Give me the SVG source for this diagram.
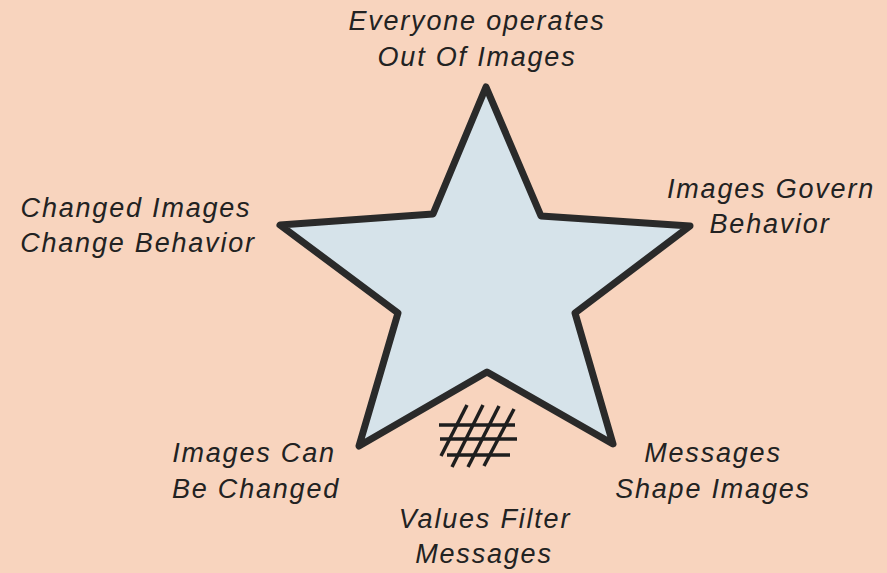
<svg xmlns="http://www.w3.org/2000/svg" width="887" height="573" viewBox="0 0 887 573">
<style>
.lbl{font-family:"Liberation Sans",Arial,sans-serif;font-style:italic;font-size:27px;fill:#222;letter-spacing:1.8px;text-anchor:middle}
.hatch{stroke:#1e1e1e;stroke-width:3.5;fill:none;stroke-linecap:butt}
</style>
<rect width="887" height="573" fill="#f8d4be"/>
<g id="star">
<polygon points="486,87 541,216 690,226 575,313 613,444 487,372 359,446 398,313 280,225 433,214" fill="#d6e3ea" stroke="#2a2a2a" stroke-width="7" stroke-linejoin="round"/>
</g>
<g id="filter" class="hatch">
<line x1="439" y1="425" x2="515" y2="425"/>
<line x1="440" y1="439" x2="517" y2="439"/>
<line x1="447" y1="455" x2="510" y2="455"/>
<line x1="467" y1="405" x2="441" y2="456"/>
<line x1="483" y1="405" x2="452" y2="467"/>
<line x1="499" y1="406" x2="468" y2="467"/>
<line x1="514" y1="409" x2="484" y2="466"/>
</g>
<g id="connectors"></g>
<g id="label-top"><text class="lbl" x="477" y="30">Everyone operates</text><text class="lbl" x="477" y="66">Out Of Images</text></g>
<g id="label-left"><text class="lbl" x="136" y="217">Changed Images</text><text class="lbl" x="138" y="252">Change Behavior</text></g>
<g id="label-right"><text class="lbl" x="771" y="198">Images Govern</text><text class="lbl" x="770" y="233">Behavior</text></g>
<g id="label-lowleft"><text class="lbl" x="254" y="462">Images Can</text><text class="lbl" x="256" y="498">Be Changed</text></g>
<g id="label-lowright"><text class="lbl" x="713" y="462">Messages</text><text class="lbl" x="713" y="498">Shape Images</text></g>
<g id="label-bottom"><text class="lbl" x="485" y="528">Values Filter</text><text class="lbl" x="484" y="563">Messages</text></g>
</svg>
